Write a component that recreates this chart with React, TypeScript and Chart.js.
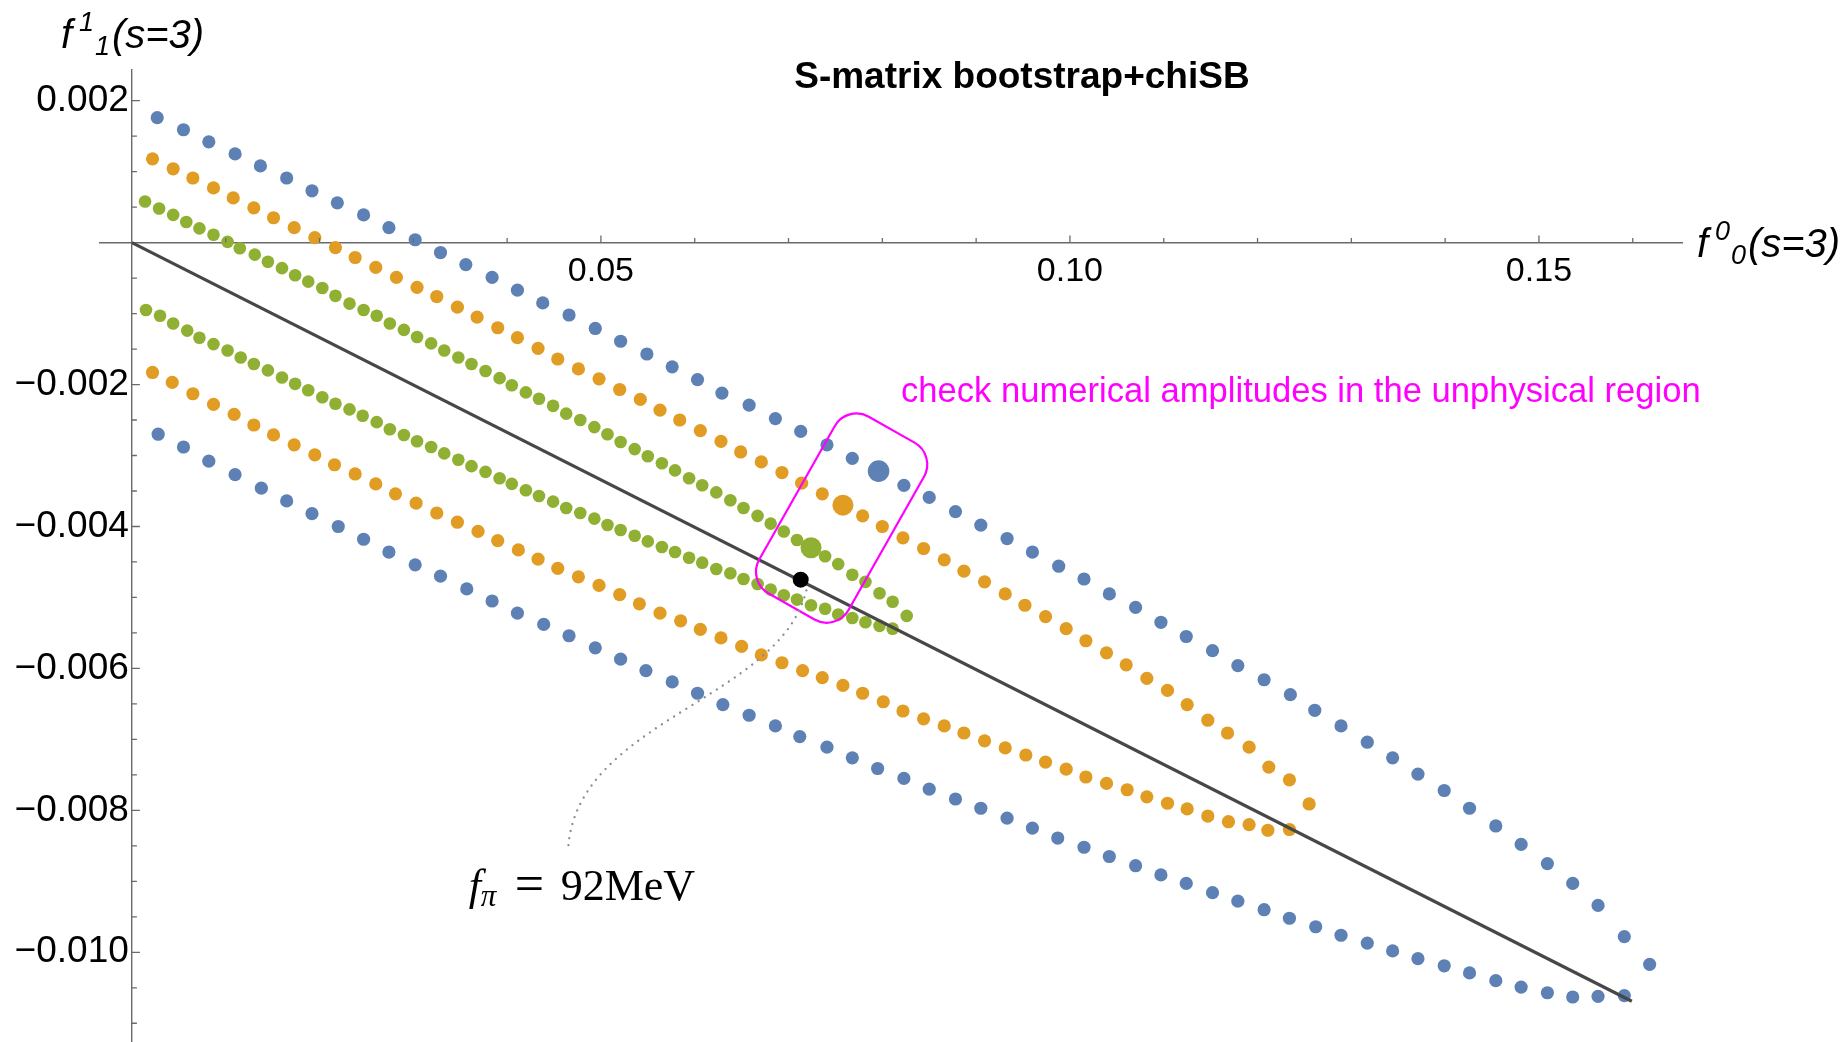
import React, { useEffect, useRef } from 'react';
import { Chart, registerables } from 'chart.js';

Chart.register(...registerables);

// ---------------- data (f0_0(s=3), f1_1(s=3)) ----------------
const blueUpper: [number, number][] = [
  [0.0027, 0.00176], [0.0055, 0.00159], [0.0082, 0.00142], [0.0110, 0.00125], [0.0137, 0.00108], [0.0165, 0.00091],
  [0.0192, 0.00073], [0.0219, 0.00056], [0.0247, 0.00039], [0.0274, 0.00021], [0.0302, 0.00004], [0.0329, -0.00014],
  [0.0356, -0.00031], [0.0384, -0.00049], [0.0411, -0.00067], [0.0438, -0.00085], [0.0466, -0.00102], [0.0494, -0.00121],
  [0.0521, -0.00139], [0.0549, -0.00157], [0.0576, -0.00175], [0.0603, -0.00193], [0.0629, -0.00212], [0.0658, -0.00229],
  [0.0686, -0.00248], [0.0713, -0.00266], [0.0741, -0.00285], [0.0768, -0.00304], [0.0796, -0.00322], [0.0823, -0.00342],
  [0.0850, -0.00359], [0.0878, -0.00379], [0.0905, -0.00398], [0.0933, -0.00417], [0.0960, -0.00436], [0.0988, -0.00456],
  [0.1015, -0.00474], [0.1042, -0.00495], [0.1070, -0.00514], [0.1097, -0.00535], [0.1124, -0.00555], [0.1152, -0.00575],
  [0.1179, -0.00596], [0.1207, -0.00616], [0.1235, -0.00637], [0.1261, -0.00659], [0.1289, -0.00681], [0.1317, -0.00704],
  [0.1344, -0.00726], [0.1371, -0.00749], [0.1399, -0.00772], [0.1426, -0.00797], [0.1454, -0.00822], [0.1481, -0.00848],
  [0.1509, -0.00875], [0.1536, -0.00903], [0.1563, -0.00934], [0.1591, -0.00978], [0.1618, -0.01017],
];

const blueLower: [number, number][] = [
  [0.0028, -0.00270], [0.0055, -0.00288], [0.0082, -0.00308], [0.0110, -0.00327], [0.0138, -0.00346], [0.0165, -0.00364],
  [0.0192, -0.00382], [0.0220, -0.00400], [0.0247, -0.00418], [0.0274, -0.00436], [0.0302, -0.00454], [0.0329, -0.00470],
  [0.0357, -0.00488], [0.0384, -0.00505], [0.0411, -0.00522], [0.0439, -0.00538], [0.0466, -0.00554], [0.0494, -0.00571],
  [0.0521, -0.00587], [0.0548, -0.00603], [0.0576, -0.00619], [0.0603, -0.00635], [0.0630, -0.00651], [0.0658, -0.00666],
  [0.0686, -0.00681], [0.0712, -0.00696], [0.0741, -0.00711], [0.0768, -0.00726], [0.0795, -0.00741], [0.0823, -0.00755],
  [0.0850, -0.00770], [0.0878, -0.00784], [0.0905, -0.00797], [0.0933, -0.00811], [0.0960, -0.00825], [0.0987, -0.00839],
  [0.1015, -0.00852], [0.1042, -0.00865], [0.1070, -0.00878], [0.1097, -0.00891], [0.1124, -0.00903], [0.1152, -0.00916],
  [0.1179, -0.00928], [0.1207, -0.00940], [0.1234, -0.00952], [0.1262, -0.00964], [0.1289, -0.00976], [0.1317, -0.00987],
  [0.1344, -0.00998], [0.1371, -0.01009], [0.1399, -0.01019], [0.1426, -0.01029], [0.1454, -0.01040], [0.1481, -0.01049],
  [0.1509, -0.01057], [0.1536, -0.01063], [0.1563, -0.01062], [0.1591, -0.01061],
];

const orangeUpper: [number, number][] = [
  [0.0022, 0.00118], [0.0044, 0.00104], [0.0065, 0.00091], [0.0087, 0.00077], [0.0108, 0.00063], [0.0130, 0.00049],
  [0.0151, 0.00035], [0.0173, 0.00021], [0.0195, 0.00007], [0.0217, -0.00007], [0.0238, -0.00021], [0.0260, -0.00035],
  [0.0282, -0.00049], [0.0304, -0.00063], [0.0325, -0.00076], [0.0347, -0.00091], [0.0368, -0.00105], [0.0390, -0.00120],
  [0.0411, -0.00134], [0.0433, -0.00149], [0.0454, -0.00164], [0.0476, -0.00178], [0.0498, -0.00192], [0.0520, -0.00207],
  [0.0542, -0.00221], [0.0563, -0.00236], [0.0584, -0.00250], [0.0606, -0.00265], [0.0628, -0.00280], [0.0649, -0.00295],
  [0.0671, -0.00309], [0.0693, -0.00324], [0.0714, -0.00339], [0.0736, -0.00354], [0.0758, -0.00370], [0.0779, -0.00385],
  [0.0800, -0.00400], [0.0822, -0.00416], [0.0844, -0.00431], [0.0866, -0.00447], [0.0887, -0.00463], [0.0909, -0.00478],
  [0.0931, -0.00495], [0.0952, -0.00511], [0.0974, -0.00527], [0.0996, -0.00544], [0.1017, -0.00561], [0.1039, -0.00578],
  [0.1060, -0.00595], [0.1082, -0.00614], [0.1104, -0.00631], [0.1125, -0.00651], [0.1147, -0.00673], [0.1168, -0.00691],
  [0.1191, -0.00711], [0.1212, -0.00739], [0.1234, -0.00757], [0.1255, -0.00791],
];

const orangeLower: [number, number][] = [
  [0.0022, -0.00183], [0.0043, -0.00197], [0.0065, -0.00213], [0.0087, -0.00228], [0.0109, -0.00242], [0.0130, -0.00257],
  [0.0151, -0.00271], [0.0173, -0.00285], [0.0195, -0.00299], [0.0216, -0.00313], [0.0238, -0.00326], [0.0260, -0.00340],
  [0.0281, -0.00354], [0.0303, -0.00367], [0.0325, -0.00381], [0.0347, -0.00394], [0.0369, -0.00407], [0.0390, -0.00420],
  [0.0412, -0.00433], [0.0433, -0.00446], [0.0454, -0.00459], [0.0476, -0.00471], [0.0498, -0.00483], [0.0520, -0.00496],
  [0.0541, -0.00509], [0.0563, -0.00522], [0.0585, -0.00533], [0.0606, -0.00545], [0.0628, -0.00557], [0.0650, -0.00569],
  [0.0671, -0.00581], [0.0693, -0.00592], [0.0715, -0.00603], [0.0736, -0.00613], [0.0758, -0.00624], [0.0779, -0.00635],
  [0.0801, -0.00647], [0.0822, -0.00660], [0.0844, -0.00671], [0.0866, -0.00681], [0.0887, -0.00691], [0.0909, -0.00702],
  [0.0931, -0.00712], [0.0953, -0.00722], [0.0974, -0.00732], [0.0996, -0.00742], [0.1017, -0.00753], [0.1039, -0.00762],
  [0.1061, -0.00771], [0.1082, -0.00781], [0.1104, -0.00790], [0.1125, -0.00798], [0.1147, -0.00808], [0.1169, -0.00816],
  [0.1191, -0.00820], [0.1211, -0.00828], [0.1234, -0.00827],
];

const greenUpper: [number, number][] = [
  [0.0014, 0.00058], [0.0029, 0.00048], [0.0044, 0.00039], [0.0058, 0.00029], [0.0072, 0.00020], [0.0087, 0.00011],
  [0.0102, 0.00001], [0.0115, -0.00008], [0.0131, -0.00017], [0.0145, -0.00027], [0.0160, -0.00036], [0.0174, -0.00046],
  [0.0188, -0.00055], [0.0203, -0.00064], [0.0217, -0.00075], [0.0232, -0.00086], [0.0247, -0.00095], [0.0261, -0.00103],
  [0.0275, -0.00114], [0.0290, -0.00123], [0.0304, -0.00133], [0.0319, -0.00142], [0.0333, -0.00152], [0.0348, -0.00162],
  [0.0362, -0.00171], [0.0377, -0.00181], [0.0392, -0.00191], [0.0405, -0.00201], [0.0420, -0.00211], [0.0434, -0.00220],
  [0.0449, -0.00230], [0.0463, -0.00241], [0.0478, -0.00250], [0.0493, -0.00260], [0.0507, -0.00270], [0.0521, -0.00281],
  [0.0536, -0.00291], [0.0550, -0.00301], [0.0565, -0.00311], [0.0579, -0.00321], [0.0594, -0.00332], [0.0608, -0.00342],
  [0.0623, -0.00352], [0.0638, -0.00363], [0.0652, -0.00374], [0.0667, -0.00385], [0.0681, -0.00396], [0.0695, -0.00407],
  [0.0709, -0.00419], [0.0724, -0.00430], [0.0739, -0.00442], [0.0753, -0.00453], [0.0768, -0.00468], [0.0782, -0.00478],
  [0.0797, -0.00494], [0.0811, -0.00506], [0.0826, -0.00526],
];

const greenLower: [number, number][] = [
  [0.0015, -0.00095], [0.0030, -0.00103], [0.0044, -0.00114], [0.0059, -0.00124], [0.0072, -0.00134], [0.0087, -0.00143],
  [0.0102, -0.00152], [0.0116, -0.00162], [0.0130, -0.00171], [0.0145, -0.00180], [0.0160, -0.00190], [0.0174, -0.00199],
  [0.0188, -0.00208], [0.0203, -0.00218], [0.0217, -0.00227], [0.0232, -0.00235], [0.0246, -0.00244], [0.0261, -0.00253],
  [0.0275, -0.00263], [0.0290, -0.00271], [0.0304, -0.00280], [0.0319, -0.00288], [0.0333, -0.00297], [0.0348, -0.00306],
  [0.0362, -0.00315], [0.0377, -0.00323], [0.0392, -0.00332], [0.0405, -0.00340], [0.0420, -0.00349], [0.0434, -0.00357],
  [0.0449, -0.00365], [0.0463, -0.00374], [0.0478, -0.00381], [0.0493, -0.00389], [0.0507, -0.00398], [0.0521, -0.00405],
  [0.0536, -0.00413], [0.0550, -0.00421], [0.0565, -0.00429], [0.0579, -0.00436], [0.0594, -0.00444], [0.0608, -0.00451],
  [0.0623, -0.00460], [0.0638, -0.00466], [0.0652, -0.00474], [0.0667, -0.00481], [0.0681, -0.00489], [0.0695, -0.00497],
  [0.0709, -0.00503], [0.0724, -0.00511], [0.0739, -0.00516], [0.0753, -0.00524], [0.0768, -0.00529], [0.0782, -0.00535],
  [0.0797, -0.00540], [0.0811, -0.00544],
];

// highlighted points (blue, orange, green) and the f_pi = 92 MeV point
const highlighted: [number, number][] = [[0.0796, -0.00322], [0.0758, -0.00370], [0.0724, -0.00430]];
const fpiPoint: [number, number][] = [[0.0713, -0.00475]];
const chiralLine: [number, number][] = [[0, 0], [0.1599, -0.01069]];

// axes and ticks
const X_RANGE = [-0.0034, 0.16525];
const Y_RANGE = [-0.011264, 0.002432];
const X_MAJOR = [0.05, 0.1, 0.15];
const X_MINOR = [0.01, 0.02, 0.03, 0.04, 0.06, 0.07, 0.08, 0.09, 0.11, 0.12, 0.13, 0.14, 0.16];
const Y_MAJOR = [-0.01, -0.008, -0.006, -0.004, -0.002, 0.002];
const Y_MINOR = [
  0.0015, 0.001, 0.0005, -0.0005, -0.001, -0.0015, -0.0025, -0.003, -0.0035, -0.0045, -0.005, -0.0055,
  -0.0065, -0.007, -0.0075, -0.0085, -0.009, -0.0095, -0.0105, -0.011,
];

// annotation anchors (data coordinates)
const TITLE_POS = [0.09488, 0.002178];
const NOTE_POS = [0.0820, -0.002246];
const BOX_CENTER = [0.07566, -0.003882];
const CURVE = [[0.0719, -0.0049], [0.0691, -0.00645], [0.0472, -0.00673], [0.0465, -0.00856]];
const FPI_LABEL_POS = [0.0359, -0.00926];
const X_LABEL_POS = [0.16684, -0.000203];
const Y_LABEL_POS = [-0.00757, 0.002735];

const BLUE = '#5E81B5';
const ORANGE = '#E19C24';
const GREEN = '#8FB032';
const MAGENTA = '#FF00FF';
const AXIS_COLOR = '#6a6a6a';
const SANS = '"Liberation Sans", Arial, sans-serif';
const SERIF = '"Liberation Serif", "Times New Roman", serif';

const toPts = (a: [number, number][]) => a.map(([x, y]) => ({ x, y }));

function roundedRectPath(ctx: CanvasRenderingContext2D, x: number, y: number, w: number, h: number, r: number) {
  ctx.beginPath();
  ctx.moveTo(x + r, y);
  ctx.lineTo(x + w - r, y);
  ctx.arcTo(x + w, y, x + w, y + r, r);
  ctx.lineTo(x + w, y + h - r);
  ctx.arcTo(x + w, y + h, x + w - r, y + h, r);
  ctx.lineTo(x + r, y + h);
  ctx.arcTo(x, y + h, x, y + h - r, r);
  ctx.lineTo(x, y + r);
  ctx.arcTo(x, y, x + r, y, r);
  ctx.closePath();
}

function drawAxisLabel(ctx: CanvasRenderingContext2D, x: number, y: number, sup: string, sub: string) {
  ctx.fillStyle = '#000';
  ctx.textAlign = 'left';
  ctx.textBaseline = 'alphabetic';
  ctx.font = `italic 40px ${SANS}`;
  ctx.fillText('f', x, y);
  ctx.font = `italic 27px ${SANS}`;
  ctx.fillText(sup, x + 18, y - 17);
  ctx.fillText(sub, x + 34, y + 7);
  ctx.font = `italic 40px ${SANS}`;
  ctx.fillText('(s=3)', x + 51, y);
}

const overlayPlugin = {
  id: 'overlay',
  afterDatasetsDraw(chart: any) {
    const ctx: CanvasRenderingContext2D = chart.ctx;
    const xs = chart.scales.x;
    const ys = chart.scales.y;
    const px = (v: number) => xs.getPixelForValue(v);
    const py = (v: number) => ys.getPixelForValue(v);
    const X0 = px(0);
    const Y0 = py(0);
    ctx.save();

    // inward tick marks
    ctx.strokeStyle = AXIS_COLOR;
    ctx.lineWidth = 1.3;
    ctx.beginPath();
    X_MAJOR.forEach((v) => { const p = px(v); ctx.moveTo(p, Y0); ctx.lineTo(p, Y0 - 7); });
    X_MINOR.forEach((v) => { const p = px(v); ctx.moveTo(p, Y0); ctx.lineTo(p, Y0 - 4.5); });
    Y_MAJOR.forEach((v) => { const p = py(v); ctx.moveTo(X0, p); ctx.lineTo(X0 + 8, p); });
    Y_MINOR.forEach((v) => { const p = py(v); ctx.moveTo(X0, p); ctx.lineTo(X0 + 5, p); });
    ctx.stroke();

    // magenta rounded box
    ctx.save();
    ctx.translate(px(BOX_CENTER[0]), py(BOX_CENTER[1]));
    ctx.rotate((-60.5 * Math.PI) / 180);
    roundedRectPath(ctx, -101.6, -51.3, 203.2, 102.6, 25);
    ctx.strokeStyle = MAGENTA;
    ctx.lineWidth = 2.2;
    ctx.stroke();
    ctx.restore();

    // dotted leader curve
    ctx.save();
    ctx.beginPath();
    ctx.moveTo(px(CURVE[0][0]), py(CURVE[0][1]));
    ctx.bezierCurveTo(
      px(CURVE[1][0]), py(CURVE[1][1]),
      px(CURVE[2][0]), py(CURVE[2][1]),
      px(CURVE[3][0]), py(CURVE[3][1]),
    );
    ctx.setLineDash([0.01, 7.2]);
    ctx.lineCap = 'round';
    ctx.lineWidth = 2.3;
    ctx.strokeStyle = '#8c8c8c';
    ctx.stroke();
    ctx.restore();

    // f_pi label
    const lx = px(FPI_LABEL_POS[0]);
    const ly = py(FPI_LABEL_POS[1]);
    ctx.fillStyle = '#000';
    ctx.textAlign = 'left';
    ctx.textBaseline = 'alphabetic';
    ctx.font = `italic 44px ${SERIF}`;
    ctx.fillText('f', lx, ly);
    ctx.font = `italic 31px ${SERIF}`;
    ctx.fillText('π', lx + 12, ly + 6);
    ctx.font = `52px ${SERIF}`;
    ctx.fillText('=', lx + 46, ly + 1);
    ctx.font = `44px ${SERIF}`;
    ctx.fillText('92MeV', lx + 92, ly);

    // title
    ctx.font = `bold 37px ${SANS}`;
    ctx.textAlign = 'center';
    ctx.fillText('S-matrix bootstrap+chiSB', px(TITLE_POS[0]), py(TITLE_POS[1]));

    // magenta note
    ctx.font = `34.6px ${SANS}`;
    ctx.textAlign = 'left';
    ctx.fillStyle = MAGENTA;
    ctx.fillText('check numerical amplitudes in the unphysical region', px(NOTE_POS[0]), py(NOTE_POS[1]));

    // axis labels
    drawAxisLabel(ctx, px(X_LABEL_POS[0]), py(X_LABEL_POS[1]), '0', '0');
    drawAxisLabel(ctx, px(Y_LABEL_POS[0]), py(Y_LABEL_POS[1]), '1', '1');

    ctx.restore();
  },
};

export default function App() {
  const ref = useRef<HTMLCanvasElement>(null);

  useEffect(() => {
    const canvas = ref.current;
    if (!canvas) return;
    Chart.defaults.font.family = SANS;

    const series = (data: [number, number][], color: string, r: number) => ({
      data: toPts(data),
      backgroundColor: color,
      borderWidth: 0,
      pointRadius: r,
      pointHoverRadius: r,
      order: 3,
    });

    const chart = new Chart(canvas, {
      type: 'scatter',
      data: {
        datasets: [
          {
            data: toPts(fpiPoint),
            backgroundColor: '#000',
            borderWidth: 0,
            pointRadius: 8,
            order: 0,
          } as any,
          {
            data: toPts(highlighted),
            backgroundColor: [BLUE, ORANGE, GREEN],
            borderWidth: 0,
            pointRadius: [10.8, 10.5, 10.5],
            order: 1,
          } as any,
          {
            data: toPts(chiralLine),
            showLine: true,
            borderColor: '#474747',
            borderWidth: 3.2,
            pointRadius: 0,
            fill: false,
            order: 2,
          } as any,
          series(blueUpper, BLUE, 6.6),
          series(blueLower, BLUE, 6.6),
          series(orangeUpper, ORANGE, 6.6),
          series(orangeLower, ORANGE, 6.6),
          series(greenUpper, GREEN, 6.3),
          series(greenLower, GREEN, 6.3),
        ],
      },
      options: {
        animation: false,
        responsive: false,
        devicePixelRatio: 1,
        events: [],
        layout: { padding: { left: 100, right: 165, top: 70, bottom: 58 } },
        plugins: { legend: { display: false }, tooltip: { enabled: false }, title: { display: false } },
        scales: {
          x: {
            type: 'linear',
            position: { y: 0 } as any,
            min: X_RANGE[0],
            max: X_RANGE[1],
            grid: { display: false },
            border: { display: true, color: AXIS_COLOR, width: 1.4 },
            afterBuildTicks: (axis: any) => { axis.ticks = X_MAJOR.map((value) => ({ value })); },
            ticks: {
              autoSkip: false,
              maxRotation: 0,
              padding: 1,
              color: '#000',
              font: { size: 34, family: SANS },
              callback: (v: any) => Number(v).toFixed(2),
            },
          },
          y: {
            type: 'linear',
            position: { x: 0 } as any,
            min: Y_RANGE[0],
            max: Y_RANGE[1],
            grid: { display: false },
            border: { display: true, color: AXIS_COLOR, width: 1.4 },
            afterBuildTicks: (axis: any) => { axis.ticks = Y_MAJOR.map((value) => ({ value })); },
            ticks: {
              autoSkip: false,
              padding: 3,
              color: '#000',
              font: { size: 37, family: SANS },
              callback: (v: any) => {
                const n = Number(v);
                return (n < 0 ? '\u2212' : '') + Math.abs(n).toFixed(3) + '\u200A';
              },
            },
          },
        },
      } as any,
      plugins: [overlayPlugin],
    });

    return () => chart.destroy();
  }, []);

  return (
    <div style={{ position: 'absolute', left: 0, top: 0, width: 1847, height: 1042, overflow: 'hidden', background: '#fff' }}>
      <canvas ref={ref} width={1847} height={1100} style={{ display: 'block', width: 1847, height: 1100 }} />
    </div>
  );
}
